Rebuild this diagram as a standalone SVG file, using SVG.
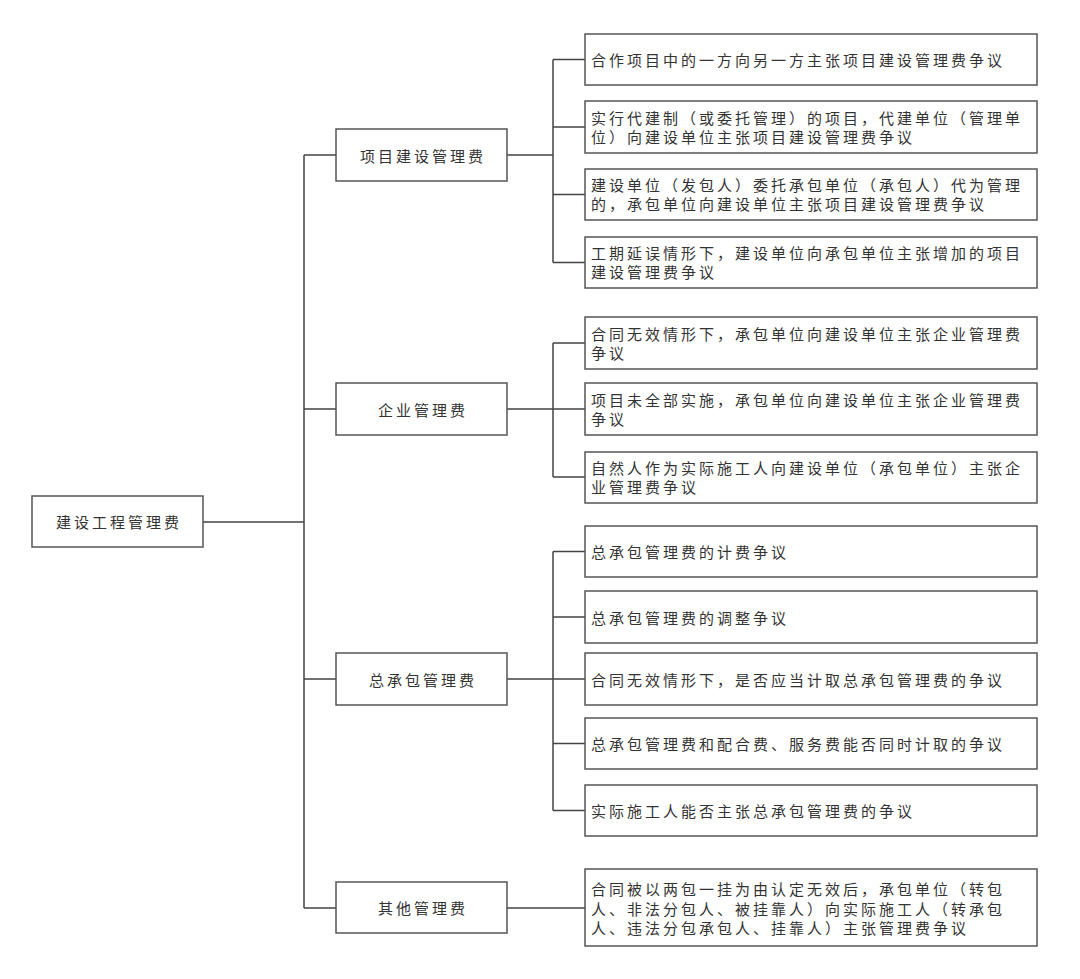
<svg xmlns="http://www.w3.org/2000/svg" width="1080" height="979" viewBox="0 0 1080 979">
<style>
.box{fill:#fff;stroke:#555;stroke-width:1.5}
.t{font-family:"Noto Sans CJK SC","Noto Sans",sans-serif;font-size:15px;letter-spacing:3px;fill:#333;dominant-baseline:central}
.c{text-anchor:middle}
.ln{fill:none;stroke:#444;stroke-width:1.5}
</style>
<rect width="1080" height="979" fill="#fff"/>
<g id="connectors">
<path class="ln" d="M203,522H304M304,155V908M304,155H336M304,409H336M304,679H336M304,908H336"/>
<path class="ln" d="M507,155H553M553,59.5V262.5M553,59.5H585M553,127H585M553,194.5H585M553,262.5H585"/>
<path class="ln" d="M507,409H553M553,343V477M553,343H585M553,409H585M553,477H585"/>
<path class="ln" d="M507,679H553M553,551.5V810.5M553,551.5H585M553,617H585M553,679H585M553,743.5H585M553,810.5H585"/>
<path class="ln" d="M507,908H585"/>
</g>
<g id="root"><rect class="box" x="32" y="496" width="171" height="51"/><text class="t c" x="119" y="521.5">建设工程管理费</text></g>
<g id="n1"><rect class="box" x="336" y="129" width="171" height="52"/><text class="t c" x="423" y="155">项目建设管理费</text></g>
<g id="n2"><rect class="box" x="336" y="383" width="171" height="52"/><text class="t c" x="423" y="409">企业管理费</text></g>
<g id="n3"><rect class="box" x="336" y="653" width="171" height="52"/><text class="t c" x="423" y="679">总承包管理费</text></g>
<g id="n4"><rect class="box" x="336" y="882" width="171" height="51"/><text class="t c" x="423" y="907.5">其他管理费</text></g>

<g id="l1a"><rect class="box" x="585" y="34" width="452" height="51"/><text class="t" x="591" y="59.5">合作项目中的一方向另一方主张项目建设管理费争议</text></g>
<g id="l1b"><rect class="box" x="585" y="101" width="452" height="52"/><text class="t" x="591" y="117.5">实行代建制（或委托管理）的项目，代建单位（管理单</text><text class="t" x="591" y="136.5">位）向建设单位主张项目建设管理费争议</text></g>
<g id="l1c"><rect class="box" x="585" y="169" width="452" height="51"/><text class="t" x="591" y="184.5">建设单位（发包人）委托承包单位（承包人）代为管理</text><text class="t" x="591" y="203.5">的，承包单位向建设单位主张项目建设管理费争议</text></g>
<g id="l1d"><rect class="box" x="585" y="237" width="452" height="51"/><text class="t" x="591" y="252.5">工期延误情形下，建设单位向承包单位主张增加的项目</text><text class="t" x="591" y="271.5">建设管理费争议</text></g>

<g id="l2a"><rect class="box" x="585" y="317" width="452" height="52"/><text class="t" x="591" y="333.5">合同无效情形下，承包单位向建设单位主张企业管理费</text><text class="t" x="591" y="352.5">争议</text></g>
<g id="l2b"><rect class="box" x="585" y="383" width="452" height="52"/><text class="t" x="591" y="399.5">项目未全部实施，承包单位向建设单位主张企业管理费</text><text class="t" x="591" y="418.5">争议</text></g>
<g id="l2c"><rect class="box" x="585" y="452" width="452" height="51"/><text class="t" x="591" y="467.5">自然人作为实际施工人向建设单位（承包单位）主张企</text><text class="t" x="591" y="486.5">业管理费争议</text></g>

<g id="l3a"><rect class="box" x="585" y="526" width="452" height="51"/><text class="t" x="591" y="551.5">总承包管理费的计费争议</text></g>
<g id="l3b"><rect class="box" x="585" y="591" width="452" height="52"/><text class="t" x="591" y="617">总承包管理费的调整争议</text></g>
<g id="l3c"><rect class="box" x="585" y="653" width="452" height="52"/><text class="t" x="591" y="679">合同无效情形下，是否应当计取总承包管理费的争议</text></g>
<g id="l3d"><rect class="box" x="585" y="718" width="452" height="51"/><text class="t" x="591" y="743.5">总承包管理费和配合费、服务费能否同时计取的争议</text></g>
<g id="l3e"><rect class="box" x="585" y="785" width="452" height="51"/><text class="t" x="591" y="810.5">实际施工人能否主张总承包管理费的争议</text></g>

<g id="l4a"><rect class="box" x="585" y="869" width="452" height="77"/><text class="t" x="591" y="888.5">合同被以两包一挂为由认定无效后，承包单位（转包</text><text class="t" x="591" y="908">人、非法分包人、被挂靠人）向实际施工人（转承包</text><text class="t" x="591" y="927.5">人、违法分包承包人、挂靠人）主张管理费争议</text></g>
</svg>
